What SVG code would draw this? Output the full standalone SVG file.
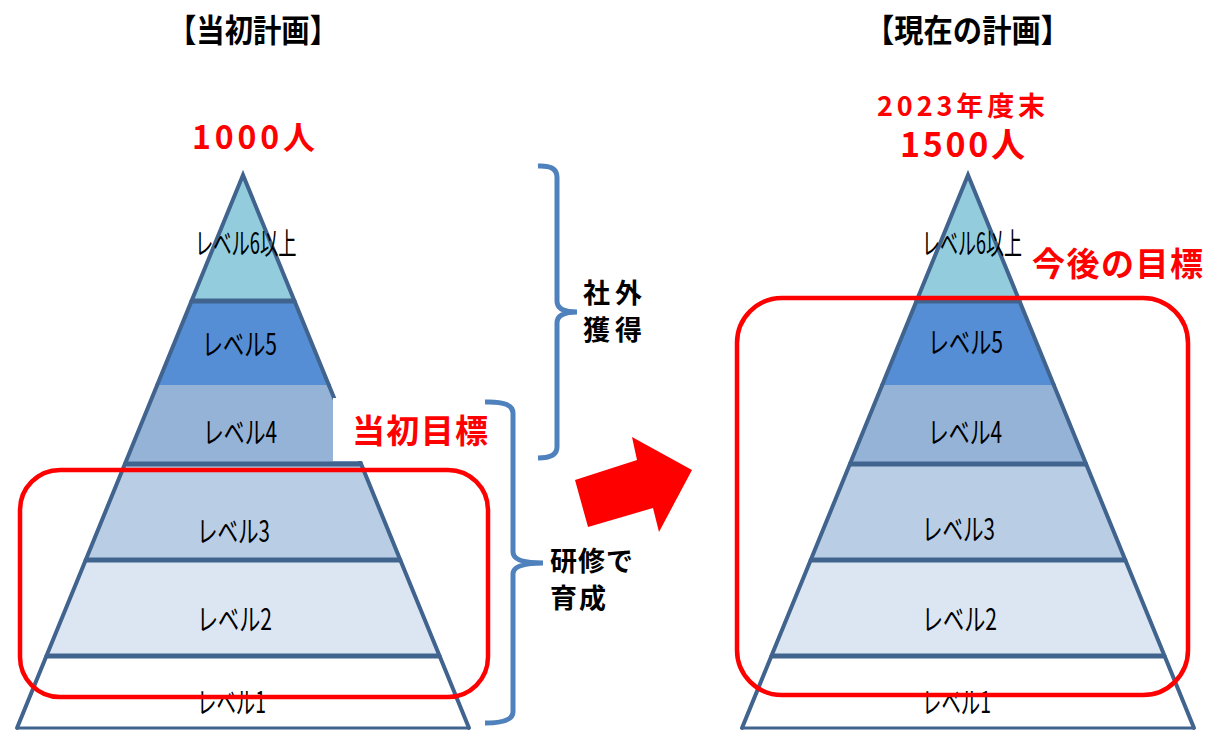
<svg xmlns="http://www.w3.org/2000/svg" width="1209" height="731" viewBox="0 0 1209 731">
<style>
.edge{stroke:#41648f;stroke-width:4;fill:none;stroke-linejoin:miter;stroke-linecap:round}
.div{stroke:#41648f;stroke-width:5;fill:none}
.base{stroke:#41648f;stroke-width:3;fill:none}
.lbl{font-family:"Noto Sans CJK JP","Noto Sans",sans-serif;font-size:30px;fill:#000}
.ttl{font-family:"Noto Sans CJK JP","Noto Sans",sans-serif;font-size:32px;font-weight:bold;fill:#000}
.red{font-family:"Noto Sans CJK JP","Noto Sans",sans-serif;font-weight:bold;fill:#ff0000}
.blk{font-family:"Noto Sans CJK JP","Noto Sans",sans-serif;font-size:27px;font-weight:bold;fill:#000}
.brace{stroke:#4f81bd;stroke-width:5;fill:none;stroke-linecap:butt}
.goal{stroke:#ff0000;stroke-width:4.5;fill:none}
</style>
<rect width="1209" height="731" fill="#fff"/>

<g id="title-left"><text class="ttl" x="168" y="42" textLength="170" lengthAdjust="spacingAndGlyphs">【当初計画】</text></g>
<g id="title-right"><text class="ttl" x="865" y="42" textLength="205" lengthAdjust="spacingAndGlyphs">【現在の計画】</text></g>

<g id="count-left"><text class="red" font-size="32" x="192" y="149" textLength="123" lengthAdjust="spacing">1000人</text></g>
<g id="count-right">
<text class="red" font-size="27" x="877" y="116" textLength="168" lengthAdjust="spacing">2023年度末</text>
<text class="red" font-size="34" x="900" y="157" textLength="125" lengthAdjust="spacing">1500人</text>
</g>

<!-- Left pyramid -->
<g id="pyramid-left">
<g id="left-level1">
<polygon points="46.4,656 439.6,656 469,728 17,728" fill="#ffffff"/>
<line class="edge" x1="46.4" y1="656" x2="17" y2="728"/><line class="edge" x1="439.6" y1="656" x2="469" y2="728"/>
<line class="base" x1="17" y1="728" x2="469" y2="728"/>
<text class="lbl" x="197" y="713" textLength="69" lengthAdjust="spacingAndGlyphs">レベル1</text>
</g>
<g id="left-level2">
<polygon points="85.7,560 400.3,560 439.6,656 46.4,656" fill="#dce6f2"/>
<line class="edge" x1="85.7" y1="560" x2="46.4" y2="656"/><line class="edge" x1="400.3" y1="560" x2="439.6" y2="656"/>
<line class="div" x1="46.4" y1="656" x2="439.6" y2="656"/>
<text class="lbl" x="197" y="630" textLength="75" lengthAdjust="spacingAndGlyphs">レベル2</text>
</g>
<g id="left-level3">
<polygon points="124.9,464 361.1,464 400.3,560 85.7,560" fill="#b9cde5"/>
<line class="edge" x1="124.9" y1="464" x2="85.7" y2="560"/><line class="edge" x1="361.1" y1="464" x2="400.3" y2="560"/>
<line class="div" x1="85.7" y1="560" x2="400.3" y2="560"/>
<text class="lbl" x="197" y="542" textLength="73" lengthAdjust="spacingAndGlyphs">レベル3</text>
</g>
<g id="left-level4">
<polygon points="157.2,385 328.8,385 361.1,464 124.9,464" fill="#95b3d7"/>
<line class="edge" x1="157.2" y1="385" x2="124.9" y2="464"/><line class="edge" x1="328.8" y1="385" x2="361.1" y2="464"/>
<line class="div" x1="124.9" y1="464" x2="361.1" y2="464"/>
<text class="lbl" x="203" y="443" textLength="74" lengthAdjust="spacingAndGlyphs">レベル4</text>
</g>
<g id="left-level5">
<polygon points="191.5,301 294.5,301 328.8,385 157.2,385" fill="#558ed5"/>
<line class="edge" x1="191.5" y1="301" x2="157.2" y2="385"/><line class="edge" x1="294.5" y1="301" x2="328.8" y2="385"/>
<text class="lbl" x="202" y="355" textLength="75" lengthAdjust="spacingAndGlyphs">レベル5</text>
</g>
<g id="left-level6">
<polygon points="243,175 294.5,301 191.5,301" fill="#93cddd"/>
<polyline class="edge" points="191.5,301 243,175 294.5,301"/>
<line class="div" x1="191.5" y1="301" x2="294.5" y2="301"/>
<text class="lbl" transform="translate(195,254) scale(0.61,1)" x="0" y="0">レベル6以上</text>
</g>
</g>

<!-- Right pyramid -->
<g id="pyramid-right" transform="translate(725,0)">
<g id="right-level1">
<polygon points="46.4,656 439.6,656 469,728 17,728" fill="#ffffff"/>
<line class="edge" x1="46.4" y1="656" x2="17" y2="728"/><line class="edge" x1="439.6" y1="656" x2="469" y2="728"/>
<line class="base" x1="17" y1="728" x2="469" y2="728"/>
<text class="lbl" x="197" y="713" textLength="69" lengthAdjust="spacingAndGlyphs">レベル1</text>
</g>
<g id="right-level2">
<polygon points="85.7,560 400.3,560 439.6,656 46.4,656" fill="#dce6f2"/>
<line class="edge" x1="85.7" y1="560" x2="46.4" y2="656"/><line class="edge" x1="400.3" y1="560" x2="439.6" y2="656"/>
<line class="div" x1="46.4" y1="656" x2="439.6" y2="656"/>
<text class="lbl" x="197" y="630" textLength="75" lengthAdjust="spacingAndGlyphs">レベル2</text>
</g>
<g id="right-level3">
<polygon points="124.9,464 361.1,464 400.3,560 85.7,560" fill="#b9cde5"/>
<line class="edge" x1="124.9" y1="464" x2="85.7" y2="560"/><line class="edge" x1="361.1" y1="464" x2="400.3" y2="560"/>
<line class="div" x1="85.7" y1="560" x2="400.3" y2="560"/>
<text class="lbl" x="197" y="540" textLength="73" lengthAdjust="spacingAndGlyphs">レベル3</text>
</g>
<g id="right-level4">
<polygon points="157.2,385 328.8,385 361.1,464 124.9,464" fill="#95b3d7"/>
<line class="edge" x1="157.2" y1="385" x2="124.9" y2="464"/><line class="edge" x1="328.8" y1="385" x2="361.1" y2="464"/>
<line class="div" x1="124.9" y1="464" x2="361.1" y2="464"/>
<text class="lbl" x="203" y="443" textLength="74" lengthAdjust="spacingAndGlyphs">レベル4</text>
</g>
<g id="right-level5">
<polygon points="191.5,301 294.5,301 328.8,385 157.2,385" fill="#558ed5"/>
<line class="edge" x1="191.5" y1="301" x2="157.2" y2="385"/><line class="edge" x1="294.5" y1="301" x2="328.8" y2="385"/>
<text class="lbl" x="203" y="353" textLength="75" lengthAdjust="spacingAndGlyphs">レベル5</text>
</g>
<g id="right-level6">
<polygon points="243,175 294.5,301 191.5,301" fill="#93cddd"/>
<polyline class="edge" points="191.5,301 243,175 294.5,301"/>
<line class="div" x1="191.5" y1="301" x2="294.5" y2="301"/>
<text class="lbl" transform="translate(197,254) scale(0.6,1)" x="0" y="0">レベル6以上</text>
</g>
</g>

<g id="goal-initial">
<rect x="333" y="398" width="160" height="63" fill="#ffffff"/>
<text class="red" font-size="33" x="352" y="443" textLength="136" lengthAdjust="spacing">当初目標</text>
</g>
<g id="goal-future">
<text class="red" font-size="33" x="1032" y="276" textLength="171" lengthAdjust="spacing">今後の目標</text>
</g>

<g id="connectors">
<path class="brace" d="M538,166 Q557,165 557,177 L557,301 Q557,312 577,312 Q557,312 557,323 L557,447 Q557,458 538,458"/>
<path class="brace" d="M485,402 Q513,401 513,413 L513,552 Q513,563 543,563 Q513,563 513,574 L513,712 Q513,723 485,723"/>
<polygon points="575,480 637,460 632,437 692,470 659,532 653,508 588,527" fill="#ff0000"/>
</g>

<g id="label-external"><text class="blk" x="583" y="303" textLength="59" lengthAdjust="spacing">社外</text><text class="blk" x="583" y="340" textLength="59" lengthAdjust="spacing">獲得</text></g>
<g id="label-training"><text class="blk" x="550" y="571" textLength="83" lengthAdjust="spacing">研修で</text><text class="blk" x="550" y="608" textLength="56" lengthAdjust="spacing">育成</text></g>

<g id="target-boxes">
<rect class="goal" x="20" y="470" width="468" height="227" rx="40" ry="40"/>
<rect class="goal" x="737" y="298" width="451" height="397" rx="45" ry="45"/>
</g>
</svg>
